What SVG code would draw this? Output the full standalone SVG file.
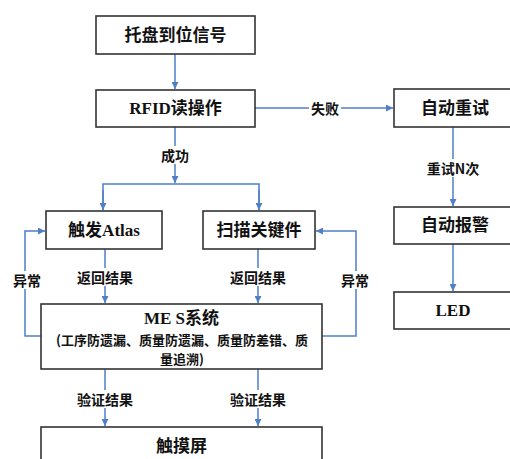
<svg xmlns="http://www.w3.org/2000/svg" width="510" height="459" viewBox="0 0 510 459">
<style>
.box{fill:#fff;stroke:#333;stroke-width:1.6}
.t{font-family:"Liberation Serif","Noto Sans CJK SC",serif;font-weight:bold;font-size:17px;fill:#111;text-anchor:middle;dominant-baseline:central}
.s{font-family:"Noto Sans CJK SC",sans-serif;font-weight:bold;font-size:13px;fill:#111;text-anchor:middle;dominant-baseline:central}
.c{fill:none;stroke:#4E7FC8;stroke-width:1.5}
.lb{fill:#fff}
.l{font-family:"Noto Sans CJK SC",sans-serif;font-weight:bold;font-size:14px;fill:#111;text-anchor:middle;dominant-baseline:central}
</style>
<defs>
<marker id="a" viewBox="0 0 10 10" refX="10" refY="5" markerWidth="7" markerHeight="7" markerUnits="userSpaceOnUse" orient="auto">
<path d="M0,0 L10,5 L0,10 z" fill="#4E7FC8"/>
</marker>
</defs>
<rect width="510" height="459" fill="#fff"/>
<g id="connectors">
<path class="c" d="M175,54 V89" marker-end="url(#a)"/>
<path class="c" d="M255,108 H393" marker-end="url(#a)"/>
<path class="c" d="M175,127 V183"  marker-end="url(#a)"/>
<path class="c" d="M103,210 V184 H259 V210" />
<path class="c" d="M103,190 V210" marker-end="url(#a)"/>
<path class="c" d="M259,190 V210" marker-end="url(#a)"/>
<path class="c" d="M453,127 V206" marker-end="url(#a)"/>
<path class="c" d="M453,244 V291" marker-end="url(#a)"/>
<path class="c" d="M105,249 V303" marker-end="url(#a)"/>
<path class="c" d="M258,249 V303" marker-end="url(#a)"/>
<path class="c" d="M41,336 H25 V231 H45" marker-end="url(#a)"/>
<path class="c" d="M322,336 H356 V231 H316" marker-end="url(#a)"/>
<path class="c" d="M105,369 V426" marker-end="url(#a)"/>
<path class="c" d="M258,369 V426" marker-end="url(#a)"/>
<g id="labels">
<rect class="lb" x="309" y="99" width="32" height="18"/><text class="l" x="325" y="108">失败</text>
<rect class="lb" x="160" y="146" width="31" height="18"/><text class="l" x="175" y="155">成功</text>
<rect class="lb" x="425" y="159" width="56" height="18"/><text class="l" x="453" y="168">重试N次</text>
<rect class="lb" x="76" y="268" width="59" height="18"/><text class="l" x="105" y="277">返回结果</text>
<rect class="lb" x="228" y="268" width="59" height="18"/><text class="l" x="258" y="277">返回结果</text>
<rect class="lb" x="11" y="271" width="31" height="18"/><text class="l" x="27" y="280">异常</text>
<rect class="lb" x="340" y="271" width="31" height="18"/><text class="l" x="355" y="280">异常</text>
<rect class="lb" x="76" y="390" width="59" height="18"/><text class="l" x="105" y="399">验证结果</text>
<rect class="lb" x="228" y="390" width="59" height="18"/><text class="l" x="258" y="399">验证结果</text>
</g>
</g>
<g id="n1"><rect class="box" x="96" y="16" width="159" height="38"/><text class="t" x="175.5" y="35">托盘到位信号</text></g>
<g id="n2"><rect class="box" x="96" y="90" width="159" height="37"/><text class="t" x="175.5" y="108.5">RFID读操作</text></g>
<g id="n3"><rect class="box" x="394" y="89" width="125" height="38"/><text class="t" x="455" y="108">自动重试</text></g>
<g id="n4"><rect class="box" x="46" y="211" width="116" height="38"/><text class="t" x="104" y="230">触发Atlas</text></g>
<g id="n5"><rect class="box" x="203" y="211" width="112" height="38"/><text class="t" x="259" y="230">扫描关键件</text></g>
<g id="n6"><rect class="box" x="394" y="207" width="125" height="37"/><text class="t" x="455" y="225.5">自动报警</text></g>
<g id="n7"><rect class="box" x="394" y="292" width="125" height="37"/><text class="t" x="453" y="310.5">LED</text></g>
<g id="n8"><rect class="box" x="41" y="304" width="281" height="65"/>
<text class="t" x="181.5" y="318" font-size="16">ME S系统</text>
<text class="s" x="182" y="339">(工序防遗漏、质量防遗漏、质量防差错、质</text>
<text class="s" x="182" y="358">量追溯)</text></g>
<g id="n9"><rect class="box" x="41" y="427" width="281" height="40"/><text class="t" x="181.5" y="446.5">触摸屏</text></g>
</svg>
